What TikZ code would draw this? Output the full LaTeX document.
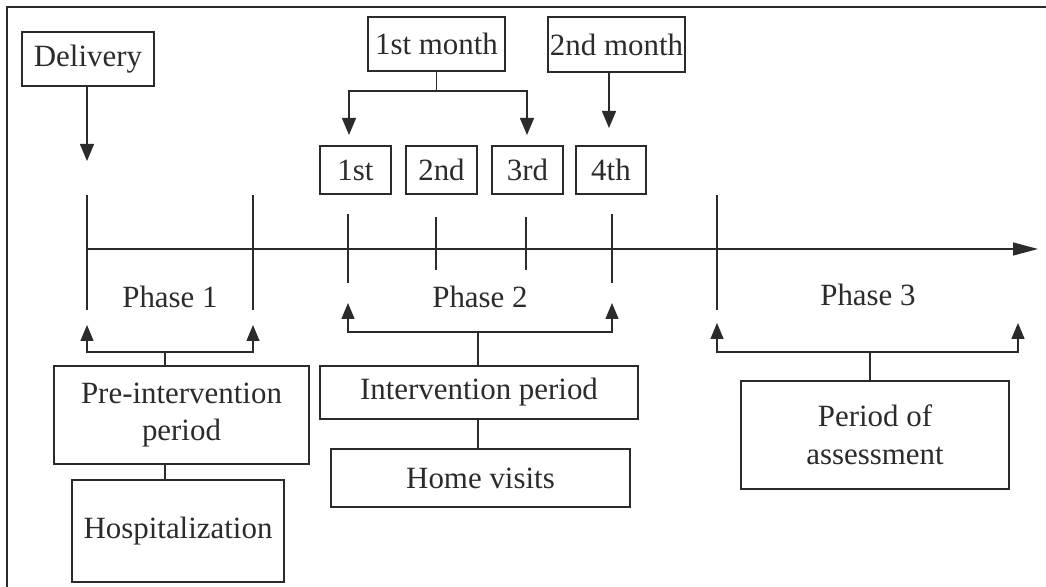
\documentclass[tikz,border=0pt]{standalone}
\usepackage{fontspec}
\setmainfont{Liberation Serif}
\usetikzlibrary{arrows.meta}
\definecolor{ink}{HTML}{2B2B2B}

\begin{document}
\begin{tikzpicture}[x=0.02cm, y=-0.02cm,
        every node/.style={font=\fontsize{17.6}{21.5}\selectfont, text=ink},
        box/.style={draw=ink, line width=0.7pt, inner sep=0pt, align=center},
        tick/.style={draw=ink, line width=0.7pt},
        dnarrow/.style={draw=ink, line width=0.8pt, -{Triangle[length=0.34cm, width=0.28cm]}},
        uparrow/.style={draw=ink, line width=0.8pt, -{Triangle[length=0.32cm, width=0.26cm]}}]
      \useasboundingbox (0,0) rectangle (1046,587);
      % frame
      \draw[ink, line width=1pt] (1046,7) -- (7,7) -- (7,587);
      % top boxes
      \node[box, minimum width=132*0.02cm, minimum height=54*0.02cm] (DEL) at (88,59) {Delivery};
      \node[box, minimum width=137*0.02cm, minimum height=54*0.02cm] (M1) at (436.5,44) {1st month};
      \node[box, minimum width=137*0.02cm, minimum height=55*0.02cm] (M2) at (616.5,44.5) {2nd month};
      \node[box, minimum width=71*0.02cm, minimum height=48*0.02cm] (V1) at (355.5,170) {1st};
      \node[box, minimum width=71*0.02cm, minimum height=48*0.02cm] (V2) at (441.5,170) {2nd};
      \node[box, minimum width=71*0.02cm, minimum height=48*0.02cm] (V3) at (527.5,170) {3rd};
      \node[box, minimum width=70*0.02cm, minimum height=48*0.02cm] (V4) at (611,170) {4th};
      % timeline
      \coordinate (T0) at (87,249);
      \coordinate (TEND) at (1038,249);
      \draw[ink, line width=0.8pt, -{Triangle[length=0.5cm, width=0.26cm]}] (T0) -- (TEND);
      \foreach \x/\a/\b in {87/195/310, 253/195/310, 348/214/283, 436/217/270,
                            526/217/270, 612/214/283, 717/195/310}
        \draw[tick] (\x,\a) -- (\x,\b);
      \node (PH1) at (170,297) {Phase 1};
      \node (PH2) at (480,297) {Phase 2};
      \node (PH3) at (868,295) {Phase 3};
      % arrows from the top
      \coordinate (DTIP) at (87,161);
      \draw[dnarrow] (DEL.south -| DTIP) -- (DTIP);
      \coordinate (MB) at (436.5,91);
      \coordinate (MT1) at (349,135);
      \coordinate (MT3) at (527,135);
      \draw[ink, line width=0.8pt] (M1.south) -- (MB);
      \draw[dnarrow] (MB) -| (MT1);
      \draw[dnarrow] (MB) -| (MT3);
      \coordinate (MT4) at (609,128);
      \draw[dnarrow] (M2.south -| MT4) -- (MT4);
      % lower boxes
      \node[box, minimum width=255*0.02cm, minimum height=98*0.02cm] (PRE) at (181.5,415) {Pre-intervention\\period};
      \node[box, minimum width=212*0.02cm, minimum height=102*0.02cm] (HOSP) at (178,531) {Hospitalization};
      \node[box, minimum width=318*0.02cm, minimum height=53*0.02cm] (INT) at (479,392.5) {Intervention period};
      \node[box, minimum width=299*0.02cm, minimum height=58*0.02cm] (HOME) at (480.5,478) {Home visits};
      \node[box, minimum width=268*0.02cm, minimum height=108*0.02cm] (ASS) at (875,435) {Period of\\assessment};
      % phase 1 brackets
      \coordinate (B1) at (165,352);
      \coordinate (U1a) at (87,325);
      \coordinate (U1b) at (253,325);
      \draw[ink, line width=0.8pt] (B1 |- PRE.north) -- (B1);
      \draw[uparrow] (B1) -| (U1a);
      \draw[uparrow] (B1) -| (U1b);
      \draw[ink, line width=0.8pt] (B1 |- PRE.south) -- (B1 |- HOSP.north);
      % phase 2 brackets
      \coordinate (B2) at (478,332);
      \coordinate (U2a) at (348,303);
      \coordinate (U2b) at (612,303);
      \draw[ink, line width=0.8pt] (B2 |- INT.north) -- (B2);
      \draw[uparrow] (B2) -| (U2a);
      \draw[uparrow] (B2) -| (U2b);
      \draw[ink, line width=0.8pt] (B2 |- INT.south) -- (B2 |- HOME.north);
      % phase 3 brackets
      \coordinate (B3) at (870,352);
      \coordinate (U3a) at (717,323);
      \coordinate (U3b) at (1018,323);
      \draw[ink, line width=0.8pt] (B3 |- ASS.north) -- (B3);
      \draw[uparrow] (B3) -| (U3a);
      \draw[uparrow] (B3) -| (U3b);
\end{tikzpicture}
\end{document}
